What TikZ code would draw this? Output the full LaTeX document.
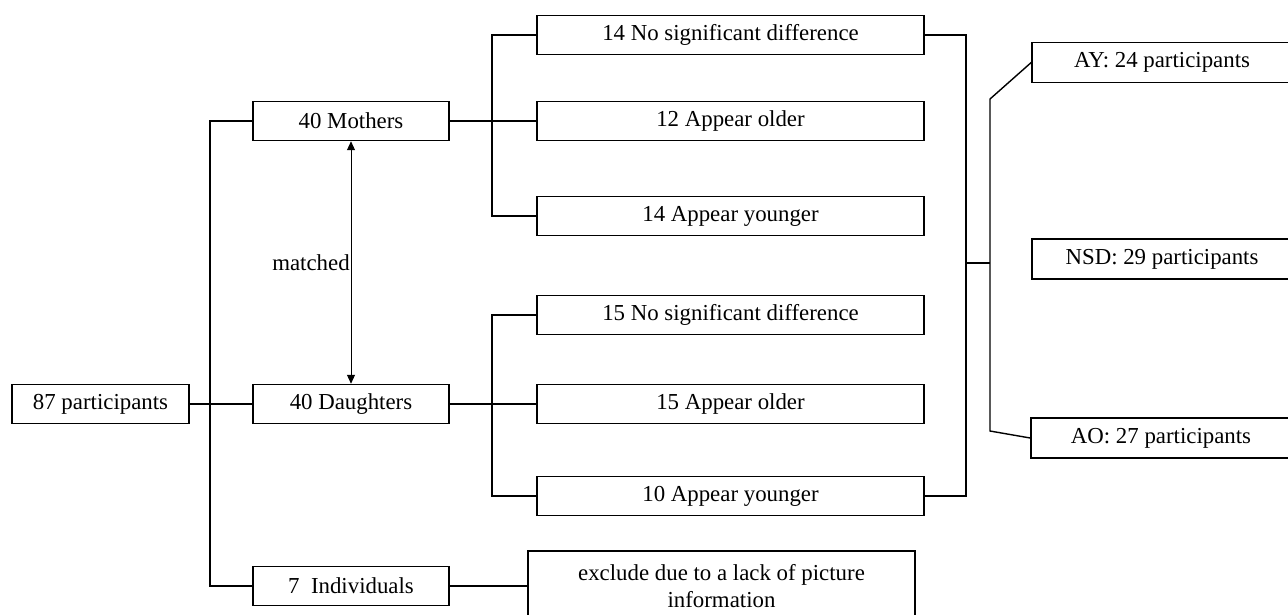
\documentclass[tikz,border=0pt]{standalone}
\usepackage{fontspec}
\setmainfont{Liberation Serif}
\usetikzlibrary{arrows.meta}
\tikzstyle{box} = [draw, rectangle, line width=.9pt, minimum height=7.8mm, inner sep=2pt]
\tikzstyle{small} = [box, minimum width=39.2mm]
\tikzstyle{wide} = [box, minimum width=77.4mm]
\tikzstyle{group} = [box, minimum width=52mm, minimum height=8mm]
\tikzstyle{link} = [line width=.8pt]

\begin{document}
\begin{tikzpicture}[
  x=0.2mm, y=-0.2mm,
  every node/.style={font=\fontsize{13}{15}\selectfont},
]
\useasboundingbox (0,0) rectangle (1288,614);

% left column
\node[box, minimum width=35.4mm] (all) at (100.5,404) {87 participants};
\node[small] (mothers) at (351,121) {40 Mothers};
\node[small] (daughters) at (351,404) {40 Daughters};
\node[small] (indiv) at (351,586) {7~~Individuals};

% middle column
\node[wide] (nsdM) at (730.5,35) {14 No significant difference};
\node[wide] (oldM) at (730.5,121) {12 Appear older};
\node[wide] (youngM) at (730.5,216) {14 Appear younger};
\node[wide] (nsdD) at (730.5,315) {15 No significant difference};
\node[wide] (oldD) at (730.5,404) {15 Appear older};
\node[wide] (youngD) at (730.5,496) {10 Appear younger};
\node[wide, minimum height=14mm, align=center] (exclude) at (721.5,586)
  {exclude due to a lack of picture\\information};

% right column
\node[group] (ay) at (1162,62.5) {AY: 24 participants};
\node[group] (nsd) at (1162,259) {NSD: 29 participants};
\node[group] (ao) at (1161,438) {AO: 27 participants};

% bracket points
\coordinate (lbot) at (210,586);
\coordinate (mM) at (492,121);
\coordinate (mD) at (492,404);
\coordinate (rb) at (966,263);
\coordinate (rmid) at (990,263);
\coordinate (rtop) at (990,99);
\coordinate (rbot) at (990,431);

% connectors
\draw[link] (mothers.west) -| (lbot) -- (indiv.west);
\draw[link] (all.east) -- (daughters.west);
\draw[link] (mothers.east) -- (oldM.west);
\draw[link] (nsdM.west) -| (mM) |- (youngM.west);
\draw[link] (daughters.east) -- (oldD.west);
\draw[link] (nsdD.west) -| (mD) |- (youngD.west);
\draw[link] (indiv.east) -- (exclude.west);
\draw[link] (nsdM.east) -| (rb) |- (youngD.east);
\draw[link] (rb) -- (rmid);
\draw[link] (ay.west) -- (rtop) -- (rbot) -- (ao.west);

\draw[line width=.5pt, {Triangle[length=5pt,width=4.5pt]}-{Triangle[length=5pt,width=4.5pt]}]
  (mothers.south) -- (daughters.north)
  node[midway, left, inner sep=.5pt] {matched};
\end{tikzpicture}
\end{document}
